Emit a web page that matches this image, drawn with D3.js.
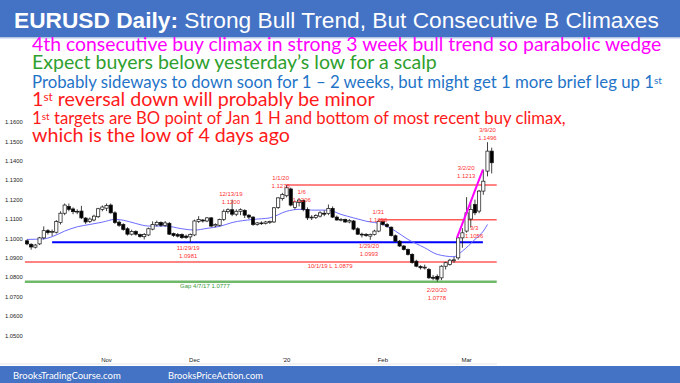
<!DOCTYPE html>
<html><head><meta charset="utf-8">
<script src="https://cdn.jsdelivr.net/npm/d3@7"></script>
<style>
html,body{margin:0;padding:0;background:#fff;}
svg{display:block;}
</style></head>
<body>
<svg id="chart" width="680" height="383"></svg>
<script>
// ---- DATA ----
const barOpen  = [1.0988,1.0970,1.0955,1.0972,1.1003,1.1040,1.1032,1.1032,1.1082,1.1130,1.1165,1.1152,1.1136,1.1141,1.1105,1.1088,1.1095,1.1112,1.1150,1.1156,1.1172,1.1132,1.1084,1.1072,1.1050,1.1022,1.1036,1.1020,1.1009,1.1018,1.1048,1.1070,1.1082,1.1068,1.1078,1.1025,1.1020,1.1020,1.1012,1.1008,1.1018,1.1088,1.1095,1.1090,1.1106,1.1065,1.1068,1.1098,1.1138,1.1148,1.1125,1.1140,1.1145,1.1120,1.1110,1.1072,1.1080,1.1078,1.1082,1.1085,1.1160,1.1205,1.1220,1.1255,1.1160,1.1185,1.1195,1.1150,1.1106,1.1108,1.1115,1.1130,1.1128,1.1155,1.1110,1.1095,1.1098,1.1085,1.1090,1.1050,1.1022,1.1020,1.1012,1.1020,1.1038,1.1088,1.1072,1.1058,1.1014,1.0986,1.0961,1.0943,1.0918,1.0883,1.0855,1.0848,1.0840,1.0800,1.0805,1.0797,1.0857,1.0866,1.0885,1.0900,1.1003,1.1038,1.1100,1.1175,1.1141,1.1244,1.1347,1.1450];
const barHigh  = [1.0995,1.0975,1.0972,1.1008,1.1062,1.1048,1.1046,1.1095,1.1140,1.1180,1.1180,1.1160,1.1150,1.1168,1.1110,1.1108,1.1122,1.1158,1.1170,1.1180,1.1180,1.1140,1.1092,1.1078,1.1058,1.1045,1.1042,1.1025,1.1028,1.1056,1.1088,1.1092,1.1088,1.1090,1.1085,1.1030,1.1028,1.1026,1.1020,1.1026,1.1097,1.1115,1.1100,1.1110,1.1110,1.1078,1.1102,1.1150,1.1155,1.1200,1.1150,1.1155,1.1150,1.1125,1.1115,1.1085,1.1088,1.1090,1.1092,1.1162,1.1212,1.1235,1.1276,1.1262,1.1195,1.1206,1.1200,1.1160,1.1120,1.1125,1.1140,1.1145,1.1175,1.1165,1.1118,1.1105,1.1102,1.1100,1.1095,1.1058,1.1030,1.1028,1.1025,1.1045,1.1096,1.1092,1.1080,1.1062,1.1020,1.0992,1.0966,1.0948,1.0924,1.0890,1.0862,1.0865,1.0848,1.0812,1.0815,1.0862,1.0880,1.0895,1.0905,1.1008,1.1053,1.1213,1.1185,1.1200,1.1250,1.1355,1.1496,1.1468];
const barLow   = [1.0965,1.0942,1.0948,1.0966,1.0995,1.1020,1.1012,1.1025,1.1072,1.1120,1.1140,1.1125,1.1125,1.1100,1.1075,1.1080,1.1088,1.1105,1.1140,1.1141,1.1128,1.1075,1.1060,1.1040,1.1015,1.1015,1.1015,1.1004,1.0995,1.1012,1.1042,1.1062,1.1060,1.1060,1.1018,1.1008,1.1005,1.0998,1.0998,1.0981,1.1012,1.1080,1.1082,1.1084,1.1058,1.1058,1.1062,1.1090,1.1128,1.1115,1.1115,1.1120,1.1105,1.1100,1.1065,1.1066,1.1070,1.1072,1.1075,1.1080,1.1152,1.1195,1.1212,1.1165,1.1150,1.1165,1.1140,1.1095,1.1095,1.1100,1.1108,1.1115,1.1120,1.1105,1.1092,1.1088,1.1080,1.1078,1.1042,1.1018,1.1005,1.1008,1.0993,1.1015,1.1032,1.1066,1.1055,1.1010,1.0982,1.0956,1.0938,1.0912,1.0870,1.0852,1.0840,1.0840,1.0792,1.0785,1.0778,1.0785,1.0840,1.0860,1.0875,1.0890,1.0952,1.1030,1.1056,1.1120,1.1130,1.1225,1.1320,1.1335];
const barClose = [1.0972,1.0956,1.0966,1.1003,1.1040,1.1030,1.1036,1.1087,1.1130,1.1172,1.1150,1.1138,1.1140,1.1106,1.1085,1.1100,1.1115,1.1153,1.1162,1.1170,1.1132,1.1082,1.1068,1.1046,1.1022,1.1036,1.1022,1.1010,1.1021,1.1050,1.1072,1.1083,1.1068,1.1080,1.1022,1.1015,1.1012,1.1004,1.1005,1.1020,1.1090,1.1097,1.1090,1.1106,1.1064,1.1072,1.1098,1.1140,1.1148,1.1125,1.1140,1.1148,1.1120,1.1110,1.1072,1.1080,1.1078,1.1085,1.1088,1.1158,1.1209,1.1227,1.1261,1.1172,1.1188,1.1198,1.1150,1.1106,1.1110,1.1118,1.1132,1.1125,1.1155,1.1110,1.1095,1.1098,1.1085,1.1092,1.1048,1.1022,1.1020,1.1015,1.1020,1.1038,1.1088,1.1072,1.1062,1.1015,1.0986,1.0961,1.0943,1.0918,1.0876,1.0857,1.0849,1.0852,1.0797,1.0795,1.0790,1.0857,1.0875,1.0888,1.0890,1.1003,1.1029,1.1132,1.1150,1.1132,1.1244,1.1295,1.1450,1.1390];

const priceTicks = [1.05,1.06,1.07,1.08,1.09,1.10,1.11,1.12,1.13,1.14,1.15,1.16];
const monthLabels = ["Nov","Dec","'20","Feb","Mar"];
const monthIdx = [19,40,62,85,105];

const maIdx = [0,4,6,9,12,15,18,21,23,26,29,33,37,40,43,46,49,54,58,62,65,68,72,75,78,81,85,88,91,95,98,102,104,107,109,110];
const maVal = [1.0995,1.0998,1.1009,1.1038,1.1060,1.1072,1.1084,1.1098,1.1094,1.1077,1.1064,1.1064,1.1050,1.1043,1.1052,1.1062,1.1082,1.1098,1.1106,1.1140,1.1150,1.1146,1.1146,1.1124,1.1106,1.1089,1.1072,1.1038,1.0995,1.0952,1.0918,1.0906,1.0935,1.0995,1.1038,1.1072];

const levelPrice = [1.1276,1.1096,1.0981,1.0879,1.0777];
const levelFrom  = [62,84,6,-0.5,-0.5];
const levelTo    = [112.2,112.2,108.9,112.2,112.2];
const levelKind  = ["red","red","blue","red","green"];

const wedgeIdx = [102.7,108.9];
const wedgeVal = [1.1003,1.1355];

const noteIdx   = [38.5,48.7,60.6,65.6,83.9,81.7,72.4,97.9,42.5,110,104.9,106.8];
const notePrice = [1.0951,1.1229,1.1311,1.1237,1.1134,1.0961,1.0858,1.0734,1.0752,1.1558,1.1363,1.1054];
const noteLine1 = ["11/29/19","12/13/19","1/1/20","1/6","1/31","1/29/20","10/1/19 L 1.0879","2/20/20","Gap 4/7/17 1.0777","3/9/20","3/2/20","3/3"];
const noteLine2 = ["1.0981","1.1200","1.1276","1.1206","1.1096","1.0993","","1.0778","","1.1496","1.1213","1.1056"];
const noteKind  = ["red","red","red","red","red","red","red","red","green","red","red","red"];

const titleBold = "EURUSD Daily:";
const titleRest = " Strong Bull Trend, But Consecutive B Climaxes";
const commentText = [
  [["4th consecutive buy climax in strong 3 week bull trend so parabolic wedge",0]],
  [["Expect buyers below yesterday\u2019s low for a scalp",0]],
  [["Probably sideways to down soon for 1 \u2013 2 weeks, but might get 1 more brief leg up 1",0],["st",1]],
  [["1",0],["st",1],[" reversal down will probably be minor",0]],
  [["1",0],["st",1],[" targets are BO point of Jan 1 H and bottom of most recent buy climax,",0]],
  [["which is the low of 4 days ago",0]]
];
const commentKind = ["magenta","green","blue","red","red","red"];
const footerText = ["BrooksTradingCourse.com","BrooksPriceAction.com"];

// ---- STYLE / LAYOUT ----
const W = 680, H = 383;
const svg = d3.select("#chart");
const colors = {red:"#ff1a1a", magenta:"#ff00ff", green:"#2ea02e", blue:"#1f74c8"};
const levelColors = {red:"#ff5a5a", blue:"#0000ff", green:"#70b86a"};
const levelWidth = {red:1.5, blue:2, green:2.5};

const x = d3.scaleLinear().domain([0, barOpen.length-1]).range([27, 491.7]);
const y = d3.scaleLinear().domain([1.05, 1.16]).range([335.5, 122.0]);

function fitWidth(sel, x0, x1){
  const w = sel.node().getBBox().width;
  const fs = parseFloat(sel.attr("font-size"));
  sel.attr("font-size", fs*(x1-x0)/w);
}

// header bar
svg.append("rect").attr("x",0).attr("y",0).attr("width",W).attr("height",37).attr("fill","#4472c4");
svg.append("rect").attr("x",0).attr("y",37).attr("width",W).attr("height",1.5).attr("fill","#b4c7e7");
const title = svg.append("text").attr("x",14).attr("y",28)
  .attr("font-family","'Liberation Sans', Arial, sans-serif").attr("font-size",24).attr("fill","#fff");
title.append("tspan").attr("font-weight","bold").text(titleBold);
title.append("tspan").text(titleRest);
fitWidth(title, 14, 659);

// comment lines (the long 3rd and 5th lines are set smaller, as in the slide)
const commentBase = [51, 69.3, 87.6, 105.9, 124.2, 142];
const commentEnd  = [662, 437, 663, 375, 566, 290];
commentText.forEach((segs, i) => {
  const t = svg.append("text").attr("x",32).attr("y",commentBase[i])
    .attr("font-family","Lato, 'Open Sans', sans-serif").attr("font-size",16)
    .attr("fill", colors[commentKind[i]]);
  segs.forEach(s => {
    const sp = t.append("tspan").text(s[0]);
    if (s[1]) sp.attr("font-size","60%").attr("baseline-shift","38%");
  });
  fitWidth(t, 32, commentEnd[i]);
});

// y axis labels
svg.append("g").selectAll("text").data(priceTicks).join("text")
  .attr("x",5).attr("y",d => y(d)+2.2)
  .attr("font-family","'Liberation Sans',Arial,sans-serif")
  .attr("font-size",5.8).attr("fill","#222")
  .text(d => d3.format(".4f")(d));

// x axis labels
svg.append("g").selectAll("text").data(monthLabels).join("text")
  .attr("x",(d,i) => x(monthIdx[i])).attr("y",362).attr("text-anchor","middle")
  .attr("font-family","'Liberation Sans',Arial,sans-serif").attr("font-size",6).attr("fill","#222")
  .text(d => d);
svg.append("line").attr("x1",0).attr("x2",497).attr("y1",364).attr("y2",364)
  .attr("stroke","#e4e4e4").attr("stroke-width",1);

// levels
svg.append("g").selectAll("line").data(levelPrice).join("line")
  .attr("x1",(d,i)=>x(levelFrom[i])).attr("x2",(d,i)=>x(levelTo[i]))
  .attr("y1",d=>y(d)).attr("y2",d=>y(d))
  .attr("stroke",(d,i)=>levelColors[levelKind[i]])
  .attr("stroke-width",(d,i)=>levelWidth[levelKind[i]]);

// moving average
const maLine = d3.line().x((d,i)=>x(maIdx[i])).y(d=>y(d)).curve(d3.curveMonotoneX);
svg.append("path").attr("d", maLine(maVal)).attr("fill","none")
  .attr("stroke","#6b6bff").attr("stroke-width",1);

// candles
const idx = d3.range(barOpen.length);
const cg = svg.append("g");
cg.selectAll("line").data(idx).join("line")
  .attr("x1",i=>x(i)).attr("x2",i=>x(i))
  .attr("y1",i=>y(barHigh[i])).attr("y2",i=>y(barLow[i]))
  .attr("stroke","#111").attr("stroke-width",0.8);
cg.selectAll("rect").data(idx).join("rect")
  .attr("x",i=>x(i)-1.6).attr("width",3.2)
  .attr("y",i=>y(Math.max(barOpen[i],barClose[i])))
  .attr("height",i=>Math.max(0.8, y(Math.min(barOpen[i],barClose[i]))-y(Math.max(barOpen[i],barClose[i]))))
  .attr("fill",i=>barClose[i]>=barOpen[i]?"#fff":"#000")
  .attr("stroke","#111").attr("stroke-width",0.7);

// wedge
const wLine = d3.line().x((d,i)=>x(wedgeIdx[i])).y(d=>y(d));
svg.append("path").attr("d", wLine(wedgeVal)).attr("stroke","#ff00ff").attr("stroke-width",2).attr("fill","none");

// notes
const ng = svg.append("g").attr("font-family","'Liberation Sans',Arial,sans-serif")
  .attr("font-size",6).attr("text-anchor","middle");
noteLine1.forEach((t,i) => {
  const col = noteKind[i]==="green" ? "#3a9a3a" : "#ff3030";
  ng.append("text").attr("x",x(noteIdx[i])).attr("y",y(notePrice[i])+1.8).attr("fill",col).text(t);
  if (noteLine2[i]) ng.append("text").attr("x",x(noteIdx[i])).attr("y",y(notePrice[i])+9.6).attr("fill",col).text(noteLine2[i]);
});

// footer
svg.append("rect").attr("x",0).attr("y",366).attr("width",W).attr("height",H-366).attr("fill","#4472c4");
const fStart = [13,168], fEnd = [121,263];
footerText.forEach((t,i) => {
  const f = svg.append("text").attr("x",fStart[i]).attr("y",379)
    .attr("font-family","Lato,'Open Sans',sans-serif").attr("font-size",11).attr("fill","#fff").text(t);
  fitWidth(f, fStart[i], fEnd[i]);
});
</script>
</body></html>
